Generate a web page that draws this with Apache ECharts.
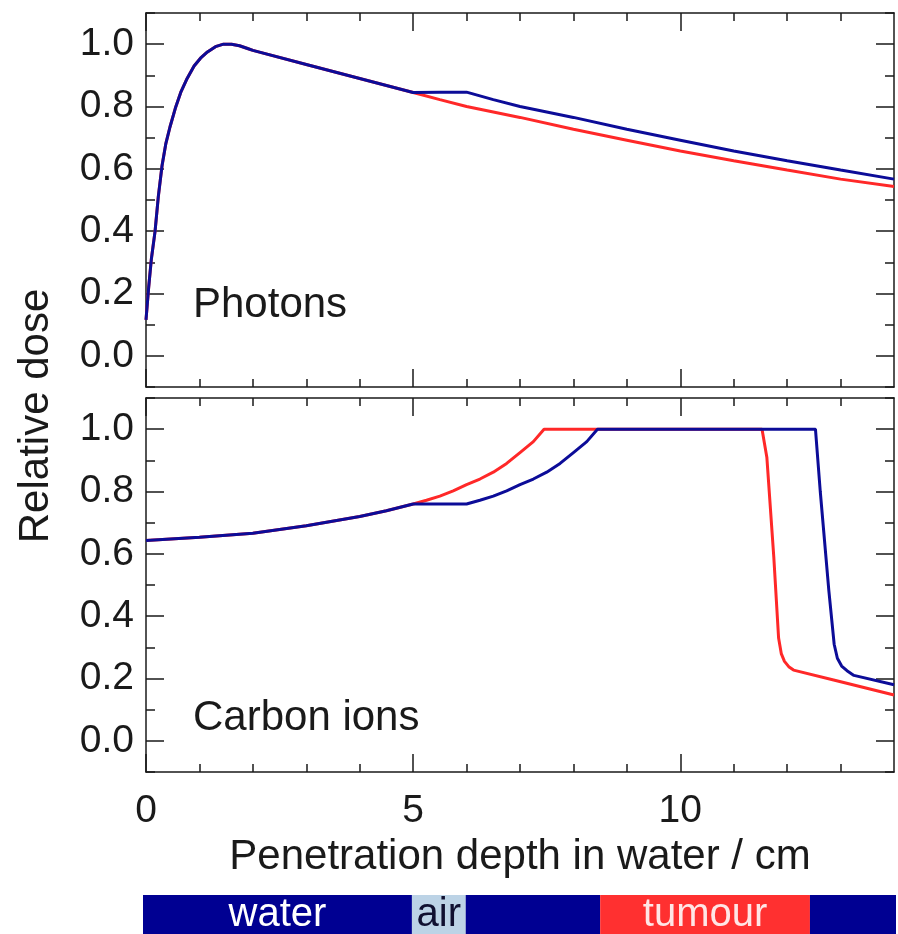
<!DOCTYPE html>
<html>
<head>
<meta charset="utf-8">
<title>Relative dose: photons vs carbon ions</title>
<script src="https://cdn.jsdelivr.net/npm/echarts@6/dist/echarts.min.js"></script>
<style>
  html, body { margin: 0; padding: 0; background: #fff; }
  #chart { width: 898px; height: 934px; }
</style>
</head>
<body>
<div id="chart"></div>
<script>
// photons, plain water (red) and water with 1 cm air gap (blue)
const photonWaterX = [0, 0.05, 0.1, 0.17, 0.23, 0.3, 0.37, 0.45, 0.55, 0.65, 0.77, 0.9, 1.02, 1.15, 1.3, 1.45, 1.6, 1.75, 1.9, 2, 3, 4, 5, 5.5, 6, 7, 8, 9, 10, 11, 12, 13, 14];
const photonWaterY = [0.115, 0.22, 0.31, 0.40, 0.51, 0.61, 0.68, 0.735, 0.795, 0.845, 0.89, 0.93, 0.955, 0.975, 0.992, 1.0, 1.0, 0.995, 0.986, 0.98, 0.935, 0.89, 0.845, 0.822, 0.80, 0.765, 0.727, 0.692, 0.657, 0.626, 0.596, 0.567, 0.543];
const photonAirX = [0, 0.05, 0.1, 0.17, 0.23, 0.3, 0.37, 0.45, 0.55, 0.65, 0.77, 0.9, 1.02, 1.15, 1.3, 1.45, 1.6, 1.75, 1.9, 2, 3, 4, 5, 5.5, 6, 6.5, 7, 8, 9, 10, 11, 12, 13, 14];
const photonAirY = [0.115, 0.22, 0.31, 0.40, 0.51, 0.61, 0.68, 0.735, 0.795, 0.845, 0.89, 0.93, 0.955, 0.975, 0.992, 1.0, 1.0, 0.995, 0.986, 0.98, 0.935, 0.89, 0.845, 0.846, 0.846, 0.822, 0.80, 0.765, 0.727, 0.692, 0.657, 0.626, 0.596, 0.567];

// carbon ions
const carbonWaterX = [0, 1, 2, 3, 4, 4.5, 5, 5.25, 5.5, 5.75, 6, 6.25, 6.5, 6.75, 7, 7.25, 7.45, 11.53, 11.62, 11.75, 11.84, 11.89, 11.95, 12.03, 12.12, 12.87, 14];
const carbonWaterY = [0.643, 0.653, 0.666, 0.69, 0.72, 0.738, 0.76, 0.772, 0.785, 0.802, 0.822, 0.84, 0.862, 0.89, 0.925, 0.96, 1.0, 1.0, 0.91, 0.59, 0.33, 0.28, 0.255, 0.238, 0.227, 0.195, 0.147];
const carbonAirX = [0, 1, 2, 3, 4, 4.5, 5, 5.5, 6, 6.25, 6.5, 6.75, 7, 7.25, 7.5, 7.75, 8, 8.25, 8.45, 12.53, 12.62, 12.78, 12.88, 12.94, 13.02, 13.12, 13.25, 14];
const carbonAirY = [0.643, 0.653, 0.666, 0.69, 0.72, 0.738, 0.76, 0.76, 0.76, 0.772, 0.785, 0.802, 0.822, 0.84, 0.862, 0.89, 0.925, 0.96, 1.0, 1.0, 0.80, 0.483, 0.31, 0.265, 0.24, 0.225, 0.21, 0.18];

// ticks and labels
const xLabelTicks = [0, 5, 10];
const xSmallTicks = [1, 2, 3, 4, 6, 7, 8, 9, 11, 12, 13];
const yLabelTicks = [0, 0.2, 0.4, 0.6, 0.8, 1.0];
const ySmallTicks = [-0.1, 0.1, 0.3, 0.5, 0.7, 0.9, 1.1];

// material layers under the plot
const layerNames = ['water', 'air', '', 'tumour', ''];
const layerEdges = [0, 5, 6, 8.5, 12.4, 14];
const layerColors = ['#000092', '#bcd3e6', '#000092', '#ff3030', '#000092'];
const layerTextColors = ['#ffffff', '#101030', '#ffffff', '#ffe6e6', '#ffffff'];

const FONT = 'Liberation Sans, Arial, Helvetica, sans-serif';
const INK = '#1a1a1a';
const BLUE = '#0c0c98';
const RED = '#ff2828';

const pairs = (xs, ys) => xs.map((x, i) => [x, ys[i]]);

// one x axis layer (frame line + ticks, or extra long ticks)
function xAx(grid, pos, ticks, len, withLine, labels) {
  return {
    type: 'value', gridIndex: grid, position: pos, min: 0, max: 14,
    axisLine: { show: withLine, onZero: false, lineStyle: { color: INK, width: 1.5 } },
    axisTick: { show: true, inside: true, length: len, customValues: ticks, lineStyle: { color: INK, width: 1.5 } },
    axisLabel: labels ? {
      show: true, customValues: xLabelTicks, margin: 20,
      fontFamily: FONT, fontSize: 39, color: INK
    } : { show: false },
    splitLine: { show: false }
  };
}

function yAx(grid, pos, ticks, len, withLine, labels) {
  return {
    type: 'value', gridIndex: grid, position: pos, min: -0.1, max: 1.1,
    axisLine: { show: withLine, onZero: false, lineStyle: { color: INK, width: 1.5 } },
    axisTick: { show: true, inside: true, length: len, customValues: ticks, lineStyle: { color: INK, width: 1.5 } },
    axisLabel: labels ? {
      show: true, customValues: yLabelTicks, margin: 12,
      fontFamily: FONT, fontSize: 39, color: INK,
      formatter: v => Number(v).toFixed(1)
    } : { show: false },
    splitLine: { show: false }
  };
}

const xAxes = [];
const yAxes = [];
[0, 1].forEach(g => {
  xAxes.push(xAx(g, 'bottom', xSmallTicks, 8, true, g === 1));
  xAxes.push(xAx(g, 'bottom', xLabelTicks, 18, false, false));
  xAxes.push(xAx(g, 'top', xSmallTicks, 8, true, false));
  xAxes.push(xAx(g, 'top', xLabelTicks, 18, false, false));
  yAxes.push(yAx(g, 'left', yLabelTicks, 18, true, true));
  yAxes.push(yAx(g, 'left', ySmallTicks, 9, false, false));
  yAxes.push(yAx(g, 'right', yLabelTicks, 18, true, false));
  yAxes.push(yAx(g, 'right', ySmallTicks, 9, false, false));
});
xAxes[4].name = 'Penetration depth in water / cm';
xAxes[4].nameLocation = 'middle';
xAxes[4].nameGap = 64;
xAxes[4].nameTextStyle = { fontFamily: FONT, fontSize: 42, color: INK };

// layer strip axes
xAxes.push({ type: 'value', gridIndex: 2, min: 0, max: 14, show: false });
yAxes.push({ type: 'category', gridIndex: 2, data: ['layers'], show: false });

const curve = (name, xs, ys, c, xi, yi) => ({
  name, type: 'line', xAxisIndex: xi, yAxisIndex: yi,
  data: pairs(xs, ys), showSymbol: false, smooth: false,
  lineStyle: { color: c, width: 3 }, itemStyle: { color: c }, z: c === BLUE ? 4 : 3
});

const layerSeries = layerNames.map((name, i) => ({
  type: 'bar', stack: 'layers', xAxisIndex: 8, yAxisIndex: 8,
  barWidth: '100%',
  data: [layerEdges[i + 1] - layerEdges[i]],
  itemStyle: { color: layerColors[i] },
  label: {
    show: name !== '', position: 'inside', formatter: name,
    fontFamily: FONT, fontSize: 40, color: layerTextColors[i]
  }
}));

const chart = echarts.init(document.getElementById('chart'));
chart.setOption({
  animation: false,
  backgroundColor: '#fff',
  grid: [
    { left: 146, top: 13, width: 748, height: 374 },
    { left: 146, top: 398, width: 748, height: 374 },
    { left: 143, top: 895, width: 753, height: 39 }
  ],
  xAxis: xAxes,
  yAxis: yAxes,
  graphic: [
    { type: 'text', left: 193, top: 284, style: { text: 'Photons', font: '42px ' + FONT, fill: INK } },
    { type: 'text', left: 193, top: 697, style: { text: 'Carbon ions', font: '42px ' + FONT, fill: INK } },
    {
      type: 'text', x: 36, y: 416, rotation: Math.PI / 2,
      style: { text: 'Relative dose', font: '42px ' + FONT, fill: INK, textAlign: 'center', textVerticalAlign: 'middle' }
    }
  ],
  series: [
    curve('Photons, water', photonWaterX, photonWaterY, RED, 0, 0),
    curve('Photons, air gap', photonAirX, photonAirY, BLUE, 0, 0),
    curve('Carbon, water', carbonWaterX, carbonWaterY, RED, 4, 4),
    curve('Carbon, air gap', carbonAirX, carbonAirY, BLUE, 4, 4)
  ].concat(layerSeries)
});
</script>
</body>
</html>
